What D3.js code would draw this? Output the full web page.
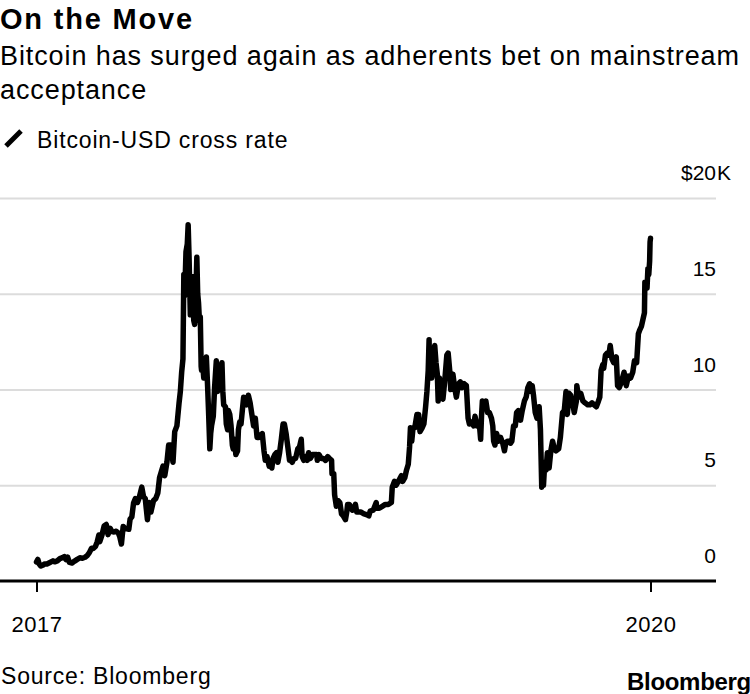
<!DOCTYPE html>
<html><head><meta charset="utf-8">
<script src="https://cdn.jsdelivr.net/npm/d3@7"></script>
<style>
body{margin:0;background:#fff;}
svg{display:block;font-family:"Liberation Sans",Arial,Helvetica,sans-serif;}
</style></head><body>
<svg id="chart" width="750" height="694"></svg>
<script>
const titleText = "On the Move";
const subtitleLines = ["Bitcoin has surged again as adherents bet on mainstream", "acceptance"];
const seriesName = "Bitcoin-USD cross rate";
const sourceText = "Source: Bloomberg";
const logoText = "Bloomberg";
const yTicks = [0, 5, 10, 15, 20];

// Bitcoin-USD, thousands of dollars
const price2017 = [
["2017-01-01",0.99],["2017-01-04",1.13],["2017-01-07",0.90],["2017-01-11",0.78],["2017-01-15",0.82],
["2017-01-20",0.89],["2017-01-25",0.89],["2017-02-01",0.97],["2017-02-08",1.05],["2017-02-12",1.00],
["2017-02-18",1.05],["2017-02-24",1.17],["2017-03-02",1.22],["2017-03-06",1.27],["2017-03-10",1.12],
["2017-03-14",1.24],["2017-03-18",0.97],["2017-03-24",0.94],["2017-03-30",1.04],["2017-04-05",1.13],
["2017-04-11",1.21],["2017-04-17",1.19],["2017-04-23",1.24],["2017-04-28",1.33],["2017-05-03",1.48],
["2017-05-08",1.71],["2017-05-12",1.70],["2017-05-17",1.80],["2017-05-21",2.04],["2017-05-25",2.40],
["2017-05-27",2.05],["2017-06-01",2.40],["2017-06-06",2.87],["2017-06-11",2.95],["2017-06-15",2.42],
["2017-06-20",2.75],["2017-06-24",2.58],["2017-06-29",2.56],["2017-07-04",2.60],["2017-07-09",2.50],
["2017-07-12",2.33],["2017-07-16",1.93],["2017-07-20",2.85],["2017-07-24",2.75],["2017-07-29",2.72],
["2017-08-02",2.70],["2017-08-05",3.23],["2017-08-09",3.35],["2017-08-13",4.07],["2017-08-17",4.30],
["2017-08-22",4.10],["2017-08-26",4.35],["2017-09-01",4.90],["2017-09-05",4.40],["2017-09-09",4.30],
["2017-09-14",3.20],["2017-09-18",4.10],["2017-09-22",3.60],["2017-09-28",4.20],["2017-10-03",4.30],
["2017-10-08",4.60],["2017-10-12",5.40],["2017-10-16",5.70],["2017-10-20",6.00],["2017-10-24",5.50],
["2017-10-29",6.20],["2017-11-02",7.10],["2017-11-07",7.10],["2017-11-12",6.20],["2017-11-16",7.80],
["2017-11-21",8.10],["2017-11-26",9.30],["2017-11-29",9.90],["2017-12-02",10.9],["2017-12-05",11.6],
["2017-12-07",16.0],["2017-12-09",14.9],["2017-12-12",17.2],["2017-12-15",17.6],["2017-12-17",18.6],
["2017-12-19",17.0],["2017-12-22",13.9],["2017-12-24",14.0],["2017-12-26",15.9],["2017-12-28",14.4],
["2017-12-30",13.6]
];
const price2018 = [
["2018-01-01",13.4],["2018-01-04",15.1],["2018-01-06",16.9],["2018-01-08",15.0],["2018-01-10",14.5],
["2018-01-12",13.6],["2018-01-14",13.8],["2018-01-16",11.2],["2018-01-17",11.0],["2018-01-19",11.5],
["2018-01-22",10.6],["2018-01-25",11.2],["2018-01-28",11.7],["2018-01-31",10.1],["2018-02-02",8.9],
["2018-02-05",6.9],["2018-02-07",7.7],["2018-02-09",8.1],["2018-02-13",8.6],["2018-02-16",10.1],
["2018-02-20",11.5],["2018-02-23",9.9],["2018-02-26",10.3],["2018-03-01",10.9],["2018-03-05",11.4],
["2018-03-07",9.9],["2018-03-09",9.2],["2018-03-13",9.1],["2018-03-15",8.2],["2018-03-18",7.9],
["2018-03-20",8.9],["2018-03-23",8.7],["2018-03-26",8.1],["2018-03-29",7.1],["2018-03-31",6.9],
["2018-04-03",7.4],["2018-04-06",6.6],["2018-04-10",6.8],["2018-04-12",7.9],["2018-04-15",8.3],
["2018-04-18",8.2],["2018-04-21",8.9],["2018-04-24",9.6],["2018-04-28",9.3],["2018-05-01",9.2],
["2018-05-05",9.7],["2018-05-09",9.3],["2018-05-13",8.7],["2018-05-17",8.1],["2018-05-21",8.5],
["2018-05-25",7.5],["2018-05-29",7.5],["2018-06-02",7.6],["2018-06-06",7.7],["2018-06-10",6.8],
["2018-06-13",6.3],["2018-06-17",6.5],["2018-06-22",6.0],["2018-06-24",6.2],["2018-06-28",5.9],
["2018-07-01",6.4],["2018-07-05",6.6],["2018-07-09",6.7],["2018-07-12",6.2],["2018-07-16",6.7],
["2018-07-20",7.4],["2018-07-24",8.2],["2018-07-27",8.2],["2018-07-31",7.7],["2018-08-04",7.0],
["2018-08-08",6.3],["2018-08-11",6.3],["2018-08-14",6.2],["2018-08-18",6.4],["2018-08-22",6.4],
["2018-08-27",6.9],["2018-08-31",7.0],["2018-09-04",7.4],["2018-09-06",6.5],["2018-09-10",6.3],
["2018-09-14",6.5],["2018-09-18",6.3],["2018-09-21",6.7],["2018-09-25",6.4],["2018-09-30",6.6],
["2018-10-05",6.6],["2018-10-10",6.6],["2018-10-11",6.3],["2018-10-15",6.6],["2018-10-20",6.4],
["2018-10-25",6.4],["2018-10-30",6.3],["2018-11-04",6.5],["2018-11-08",6.4],["2018-11-13",6.3],
["2018-11-14",5.6],["2018-11-18",5.6],["2018-11-20",4.5],["2018-11-24",3.9],["2018-11-28",4.2],
["2018-12-02",4.1],["2018-12-06",3.5],["2018-12-10",3.4],["2018-12-15",3.2],["2018-12-18",3.6],
["2018-12-20",4.0],["2018-12-24",4.0],["2018-12-28",3.8],["2018-12-31",3.7]
];
const price2019 = [
["2019-01-04",3.8],["2019-01-07",4.0],["2019-01-10",3.6],["2019-01-14",3.6],["2019-01-20",3.6],
["2019-01-27",3.5],["2019-02-03",3.45],["2019-02-07",3.4],["2019-02-10",3.65],["2019-02-17",3.7],
["2019-02-24",4.1],["2019-02-25",3.8],["2019-03-03",3.8],["2019-03-10",3.9],["2019-03-17",4.0],
["2019-03-24",4.0],["2019-03-31",4.1],["2019-04-02",4.9],["2019-04-07",5.2],["2019-04-11",5.0],
["2019-04-16",5.2],["2019-04-23",5.5],["2019-04-26",5.2],["2019-05-01",5.4],["2019-05-05",5.8],
["2019-05-09",6.1],["2019-05-12",7.0],["2019-05-14",8.0],["2019-05-17",7.3],["2019-05-20",8.0],
["2019-05-24",8.0],["2019-05-29",8.7],["2019-06-02",8.7],["2019-06-05",7.8],["2019-06-10",8.0],
["2019-06-14",8.2],["2019-06-18",9.1],["2019-06-21",9.9],["2019-06-24",11.0],["2019-06-26",12.6],
["2019-06-27",11.0],["2019-06-29",11.9],["2019-07-02",10.6],["2019-07-05",11.0],["2019-07-09",12.3],
["2019-07-12",11.4],["2019-07-15",10.8],["2019-07-17",9.4],["2019-07-20",10.6],["2019-07-24",9.8],
["2019-07-28",9.5],["2019-08-01",10.4],["2019-08-06",11.8],["2019-08-09",11.9],["2019-08-13",10.9],
["2019-08-15",10.0],["2019-08-20",10.8],["2019-08-24",10.1],["2019-08-28",9.6],["2019-09-02",10.3],
["2019-09-06",10.4],["2019-09-10",10.1],["2019-09-15",10.3],["2019-09-20",10.2],["2019-09-24",8.5],
["2019-09-27",8.2],["2019-10-02",8.3],["2019-10-07",8.1],["2019-10-10",8.6],["2019-10-15",8.1],
["2019-10-20",8.2],["2019-10-23",7.4],["2019-10-25",8.6],["2019-10-27",9.4],["2019-10-31",9.2],
["2019-11-04",9.4],["2019-11-08",8.8],["2019-11-12",8.8],["2019-11-17",8.5],["2019-11-20",8.1],
["2019-11-22",7.3],["2019-11-25",7.1],["2019-11-29",7.7],["2019-12-03",7.3],["2019-12-08",7.5],
["2019-12-13",7.2],["2019-12-17",6.8],["2019-12-20",7.2],["2019-12-24",7.3],["2019-12-28",7.3],
["2019-12-31",7.2]
];
const price2020 = [
["2020-01-03",7.3],["2020-01-07",8.1],["2020-01-11",8.1],["2020-01-14",8.8],["2020-01-18",8.9],
["2020-01-23",8.4],["2020-01-27",8.9],["2020-02-01",9.4],["2020-02-05",9.6],["2020-02-09",10.1],
["2020-02-13",10.3],["2020-02-16",9.9],["2020-02-19",10.2],["2020-02-22",9.7],["2020-02-26",8.8],
["2020-03-01",8.5],["2020-03-06",9.1],["2020-03-09",7.9],["2020-03-12",4.9],["2020-03-14",5.2],
["2020-03-16",5.0],["2020-03-19",6.2],["2020-03-22",5.8],["2020-03-25",6.7],["2020-03-29",5.9],
["2020-04-02",6.8],["2020-04-06",7.3],["2020-04-10",6.9],["2020-04-14",6.8],["2020-04-20",6.9],
["2020-04-24",7.5],["2020-04-29",8.8],["2020-05-03",8.9],["2020-05-07",9.9],["2020-05-10",8.7],
["2020-05-14",9.8],["2020-05-18",9.7],["2020-05-23",9.2],["2020-05-26",8.8],["2020-05-31",9.4],
["2020-06-01",10.2],["2020-06-05",9.6],["2020-06-10",9.8],["2020-06-15",9.4],["2020-06-20",9.3],
["2020-06-26",9.2],["2020-07-01",9.2],["2020-07-06",9.3],["2020-07-11",9.2],["2020-07-16",9.1],
["2020-07-21",9.4],["2020-07-24",9.6],["2020-07-27",11.0],["2020-07-31",11.3],["2020-08-02",11.1],
["2020-08-06",11.8],["2020-08-10",11.9],["2020-08-14",11.8],["2020-08-17",12.3],["2020-08-21",11.6],
["2020-08-25",11.4],["2020-08-31",11.7],["2020-09-03",10.2],["2020-09-07",10.1],["2020-09-12",10.4],
["2020-09-18",10.9],["2020-09-23",10.2],["2020-09-28",10.7],["2020-10-03",10.6],["2020-10-08",10.9],
["2020-10-12",11.5],["2020-10-17",11.4],["2020-10-21",12.9],["2020-10-24",13.1],["2020-10-28",13.3],
["2020-11-01",13.7],["2020-11-04",14.0],["2020-11-05",15.6],["2020-11-08",15.5],["2020-11-10",15.3],
["2020-11-12",16.3],["2020-11-14",16.0],["2020-11-16",16.7],["2020-11-17",17.7],["2020-11-18",17.9]
];

const parse = d3.timeParse("%Y-%m-%d");
const data = [...price2017, ...price2018, ...price2019, ...price2020]
  .map(([d, v]) => ({date: parse(d), value: v}));

const svg = d3.select("#chart");
const plotRight = 716;
const x = d3.scaleTime().domain(d3.extent(data, d => d.date)).range([36.5, 650.5]);
const y = d3.scaleLinear().domain([0, 20]).range([581, 198]);

// Header
svg.append("text").attr("x", 0).attr("y", 29)
  .attr("font-size", 29).attr("font-weight", "bold").attr("letter-spacing", 1.8)
  .attr("fill", "#000").text(titleText);
svg.append("g").selectAll("text").data(subtitleLines).join("text")
  .attr("x", 0).attr("y", (d, i) => 65 + i * 34)
  .attr("font-size", 27).attr("letter-spacing", 0.9).attr("fill", "#000")
  .text(d => d);

// Legend
svg.append("line").attr("x1", 6).attr("y1", 146).attr("x2", 21).attr("y2", 131)
  .attr("stroke", "#000").attr("stroke-width", 5);
svg.append("text").attr("x", 37).attr("y", 148)
  .attr("font-size", 23).attr("letter-spacing", 0.85).attr("fill", "#000").text(seriesName);

// Gridlines
const grid = svg.append("g").call(
  d3.axisRight(y).tickValues(yTicks.filter(v => v > 0)).tickSize(plotRight).tickFormat("")
);
grid.select(".domain").remove();
grid.selectAll("line").attr("stroke", "#dcdcdc").attr("stroke-width", 2);

// Y labels
const yLab = svg.append("g").attr("font-size", 21).attr("fill", "#000");
yTicks.forEach(v => {
  if (v === 20) {
    yLab.append("text").attr("x", plotRight).attr("y", y(v) - 18)
      .attr("text-anchor", "end").text("$" + v);
    yLab.append("text").attr("x", plotRight + 1).attr("y", y(v) - 18)
      .attr("text-anchor", "start").text("K");
  } else {
    yLab.append("text").attr("x", plotRight).attr("y", y(v) - 18)
      .attr("text-anchor", "end").text(v);
  }
});

// Line
svg.append("path").datum(data)
  .attr("fill", "none").attr("stroke", "#000").attr("stroke-width", 5.5)
  .attr("stroke-linejoin", "round").attr("stroke-linecap", "round")
  .attr("d", d3.line().x(d => x(d.date)).y(d => y(d.value)));

// X axis
svg.append("line").attr("x1", 0).attr("x2", plotRight).attr("y1", y(0)).attr("y2", y(0))
  .attr("stroke", "#000").attr("stroke-width", 3);
const xAxis = svg.append("g").attr("transform", `translate(0,${y(0)})`)
  .call(d3.axisBottom(x).tickValues(x.domain()).tickFormat(d3.timeFormat("%Y")).tickSize(11).tickPadding(24));
xAxis.select(".domain").remove();
xAxis.selectAll("line").attr("stroke", "#000").attr("stroke-width", 2);
xAxis.selectAll("text").attr("font-size", 22).attr("font-family", "Liberation Sans, Arial, sans-serif")
  .attr("fill", "#000").attr("letter-spacing", 0.5);

// Footer
svg.append("text").attr("x", 1).attr("y", 684)
  .attr("font-size", 23).attr("letter-spacing", 0.8).attr("fill", "#000").text(sourceText);
svg.append("text").attr("x", 627).attr("y", 690)
  .attr("font-size", 24).attr("font-weight", "bold").attr("letter-spacing", -0.3)
  .attr("fill", "#000").text(logoText);
</script>
</body></html>
